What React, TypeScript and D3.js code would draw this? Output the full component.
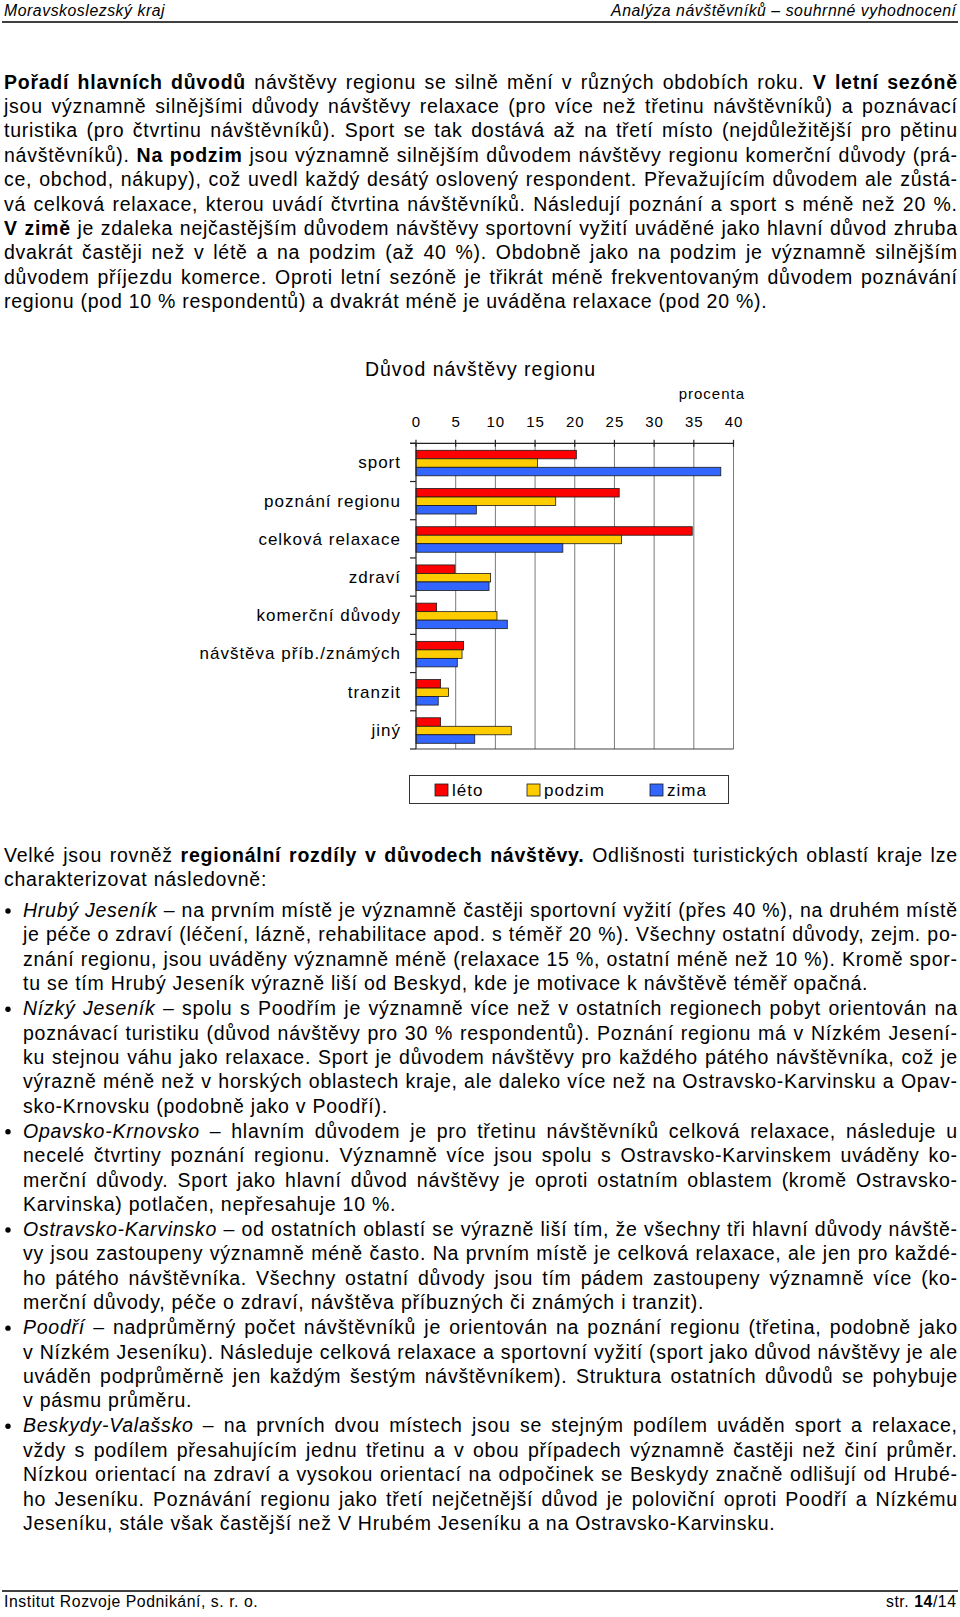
import React, { useMemo } from 'react';
import * as d3 from 'd3';

// ---------- chart data ----------
const categories = [
  'sport',
  'poznání regionu',
  'celková relaxace',
  'zdraví',
  'komerční důvody',
  'návštěva příb./známých',
  'tranzit',
  'jiný',
];
const leto = [20.2, 25.6, 34.8, 4.9, 2.6, 6.0, 3.1, 3.1];
const podzim = [15.3, 17.6, 25.9, 9.4, 10.2, 5.8, 4.1, 12.0];
const zima = [38.4, 7.6, 18.5, 9.2, 11.5, 5.2, 2.8, 7.4];
const seriesNames = ['léto', 'podzim', 'zima'];
const seriesColors = ['#FF0000', '#FFCC00', '#3366FF'];
const xTicks = [0, 5, 10, 15, 20, 25, 30, 35, 40];
const chartTitle = 'Důvod návštěvy regionu';
const unitLabel = 'procenta';

// ---------- page text ----------
const headerLeft = 'Moravskoslezský kraj';
const headerRight = 'Analýza návštěvníků – souhrnné vyhodnocení';
const footerLeft = 'Institut Rozvoje Podnikání, s. r. o.';

const paragraph1 = [
  '**Pořadí hlavních důvodů** návštěvy regionu se silně mění v různých obdobích roku. **V letní sezóně**',
  'jsou významně silnějšími důvody návštěvy relaxace (pro více než třetinu návštěvníků) a poznávací',
  'turistika (pro čtvrtinu návštěvníků). Sport se tak dostává až na třetí místo (nejdůležitější pro pětinu',
  'návštěvníků). **Na podzim** jsou významně silnějším důvodem návštěvy regionu komerční důvody (prá-',
  'ce, obchod, nákupy), což uvedl každý desátý oslovený respondent. Převažujícím důvodem ale zůstá-',
  'vá celková relaxace, kterou uvádí čtvrtina návštěvníků. Následují poznání a sport s méně než 20 %.',
  '**V zimě** je zdaleka nejčastějším důvodem návštěvy sportovní vyžití uváděné jako hlavní důvod zhruba',
  'dvakrát častěji než v létě a na podzim (až 40 %). Obdobně jako na podzim je významně silnějším',
  'důvodem příjezdu komerce. Oproti letní sezóně je třikrát méně frekventovaným důvodem poznávání',
  'regionu (pod 10 % respondentů) a dvakrát méně je uváděna relaxace (pod 20 %).',
];

const paragraph2 = [
  'Velké jsou rovněž **regionální rozdíly v důvodech návštěvy.** Odlišnosti turistických oblastí kraje lze',
  'charakterizovat následovně:',
];

const bullets = [
  [
    '*Hrubý Jeseník* – na prvním místě je významně častěji sportovní vyžití (přes 40 %), na druhém místě',
    'je péče o zdraví (léčení, lázně, rehabilitace apod. s téměř 20 %). Všechny ostatní důvody, zejm. po-',
    'znání regionu, jsou uváděny významně méně (relaxace 15 %, ostatní méně než 10 %). Kromě spor-',
    'tu se tím Hrubý Jeseník výrazně liší od Beskyd, kde je motivace k návštěvě téměř opačná.',
  ],
  [
    '*Nízký Jeseník* – spolu s Poodřím je významně více než v ostatních regionech pobyt orientován na',
    'poznávací turistiku (důvod návštěvy pro 30 % respondentů). Poznání regionu má v Nízkém Jesení-',
    'ku stejnou váhu jako relaxace. Sport je důvodem návštěvy pro každého pátého návštěvníka, což je',
    'výrazně méně než v horských oblastech kraje, ale daleko více než na Ostravsko-Karvinsku a Opav-',
    'sko-Krnovsku (podobně jako v Poodří).',
  ],
  [
    '*Opavsko-Krnovsko* – hlavním důvodem je pro třetinu návštěvníků celková relaxace, následuje u',
    'necelé čtvrtiny poznání regionu. Významně více jsou spolu s Ostravsko-Karvinskem uváděny ko-',
    'merční důvody. Sport jako hlavní důvod návštěvy je oproti ostatním oblastem (kromě Ostravsko-',
    'Karvinska) potlačen, nepřesahuje 10 %.',
  ],
  [
    '*Ostravsko-Karvinsko* – od ostatních oblastí se výrazně liší tím, že všechny tři hlavní důvody návště-',
    'vy jsou zastoupeny významně méně často. Na prvním místě je celková relaxace, ale jen pro každé-',
    'ho pátého návštěvníka. Všechny ostatní důvody jsou tím pádem zastoupeny významně více (ko-',
    'merční důvody, péče o zdraví, návštěva příbuzných či známých i tranzit).',
  ],
  [
    '*Poodří* – nadprůměrný počet návštěvníků je orientován na poznání regionu (třetina, podobně jako',
    'v Nízkém Jeseníku). Následuje celková relaxace a sportovní vyžití (sport jako důvod návštěvy je ale',
    'uváděn podprůměrně jen každým šestým návštěvníkem). Struktura ostatních důvodů se pohybuje',
    'v pásmu průměru.',
  ],
  [
    '*Beskydy-Valašsko* – na prvních dvou místech jsou se stejným podílem uváděn sport a relaxace,',
    'vždy s podílem přesahujícím jednu třetinu a v obou případech významně častěji než činí průměr.',
    'Nízkou orientací na zdraví a vysokou orientací na odpočinek se Beskydy značně odlišují od Hrubé-',
    'ho Jeseníku. Poznávání regionu jako třetí nejčetnější důvod je poloviční oproti Poodří a Nízkému',
    'Jeseníku, stále však častější než V Hrubém Jeseníku a na Ostravsko-Karvinsku.',
  ],
];

// ---------- text layout helpers ----------
const FAMILY = '"Liberation Sans", Arial, Helvetica, sans-serif';
const BODY_SIZE = 19.5;
const BODY_LS = 0.75;

type Word = { t: string; b: boolean; i: boolean; x: number };

let _ctx: CanvasRenderingContext2D | null = null;
function ctx() {
  if (!_ctx) _ctx = document.createElement('canvas').getContext('2d');
  return _ctx!;
}
function measure(t: string, b: boolean, i: boolean, size: number, ls: number) {
  const c = ctx();
  c.font = `${i ? 'italic ' : ''}${b ? 'bold ' : ''}${size}px ${FAMILY}`;
  return c.measureText(t).width + ls * t.length;
}

function parse(line: string) {
  const parts = line.split(/(\*\*[^*]+\*\*|\*[^*]+\*)/).filter((p) => p.length);
  const words: { t: string; b: boolean; i: boolean }[] = [];
  parts.forEach((p) => {
    let b = false;
    let i = false;
    let t = p;
    if (p.startsWith('**')) {
      b = true;
      t = p.slice(2, -2);
    } else if (p.startsWith('*')) {
      i = true;
      t = p.slice(1, -1);
    }
    t.split(' ')
      .filter((w) => w.length)
      .forEach((w) => words.push({ t: w, b, i }));
  });
  return words;
}

function layoutLine(line: string, left: number, right: number, justify: boolean): Word[] {
  const ws = parse(line);
  const widths = ws.map((w) => measure(w.t, w.b, w.i, BODY_SIZE, BODY_LS));
  const total = d3.sum(widths) - BODY_LS;
  const gap =
    justify && ws.length > 1
      ? (right - left - total) / (ws.length - 1)
      : measure(' ', false, false, BODY_SIZE, BODY_LS);
  let x = left;
  return ws.map((w, k) => {
    const out = { ...w, x };
    x += widths[k] + gap;
    return out;
  });
}

const TextLine: React.FC<{ words: Word[]; y: number }> = ({ words, y }) => (
  <g>
    {words.map((w, k) => (
      <text
        key={k}
        x={w.x}
        y={y}
        fontSize={BODY_SIZE}
        letterSpacing={BODY_LS}
        fontWeight={w.b ? 'bold' : 'normal'}
        fontStyle={w.i ? 'italic' : 'normal'}
      >
        {w.t}
      </text>
    ))}
  </g>
);

export default function App() {
  const W = 960;
  const H = 1617;
  const LEFT = 4;
  const RIGHT = 957;
  const BULLET_LEFT = 23;
  const LH = 24.42;

  const body = useMemo(() => {
    const items: { words: Word[]; y: number }[] = [];
    paragraph1.forEach((ln, k) => {
      items.push({
        words: layoutLine(ln, LEFT, RIGHT, k < paragraph1.length - 1),
        y: 88.5 + k * LH,
      });
    });
    paragraph2.forEach((ln, k) => {
      items.push({
        words: layoutLine(ln, LEFT, RIGHT, k < paragraph2.length - 1),
        y: 861.5 + k * 24,
      });
    });
    const dots: number[] = [];
    let y = 917;
    bullets.forEach((b) => {
      dots.push(y);
      b.forEach((ln, k) => {
        items.push({ words: layoutLine(ln, BULLET_LEFT, RIGHT, k < b.length - 1), y });
        y += LH;
      });
      y += 0.5;
    });
    return { items, dots };
  }, []);

  // ---------- chart scales ----------
  const x = d3.scaleLinear().domain([0, 40]).range([416, 733.5]);
  const y = d3.scaleBand<string>().domain(categories).range([443.3, 749]).padding(0);
  const inner = d3.scaleBand<string>().domain(seriesNames).range([7, 32.5]).padding(0);
  const series = [leto, podzim, zima];
  const plotTop = y.range()[0];
  const plotBottom = y.range()[1];
  const boundaries = categories.map((c) => y(c)!).concat([plotBottom]);

  const CH = { fontSize: 17, letterSpacing: 1 };

  const legendX = [435, 527, 650];

  return (
    <svg
      width={W}
      height={H}
      viewBox={`0 0 ${W} ${H}`}
      style={{ position: 'absolute', left: 0, top: 0, background: '#fff' }}
      fontFamily={FAMILY}
      fill="#000"
    >
      <rect x={0} y={0} width={W} height={H} fill="#fff" />

      {/* header */}
      <text x={4} y={16} fontSize={15.8} letterSpacing={0.55} fontStyle="italic">
        {headerLeft}
      </text>
      <text x={956.5} y={16} fontSize={15.8} letterSpacing={0.55} fontStyle="italic" textAnchor="end">
        {headerRight}
      </text>
      <line x1={2} x2={958} y1={22} y2={22} stroke="#000" strokeWidth={1.3} />

      {/* body text */}
      {body.items.map((it, k) => (
        <TextLine key={k} words={it.words} y={it.y} />
      ))}
      {body.dots.map((d, k) => (
        <circle key={k} cx={8} cy={d - 6} r={2.7} fill="#000" />
      ))}

      {/* chart */}
      <text x={480.5} y={376} fontSize={19.5} letterSpacing={1} textAnchor="middle">
        {chartTitle}
      </text>
      <text x={745} y={399} fontSize={15} letterSpacing={1} textAnchor="end">
        {unitLabel}
      </text>
      {xTicks.map((t) => (
        <text key={t} x={x(t) + 0.5} y={427} fontSize={15} letterSpacing={1} textAnchor="middle">
          {t}
        </text>
      ))}

      {/* gridlines */}
      {xTicks.slice(1).map((t) => (
        <line key={t} x1={x(t)} x2={x(t)} y1={plotTop} y2={plotBottom} stroke="#7a7a7a" strokeWidth={1} />
      ))}

      {/* bars */}
      {categories.map((c, ci) => (
        <g key={c}>
          {series.map((s, si) => (
            <rect
              key={si}
              x={x(0)}
              y={y(c)! + inner(seriesNames[si])!}
              width={x(s[ci]) - x(0)}
              height={inner.bandwidth()}
              fill={seriesColors[si]}
              stroke="#1a1a1a"
              strokeWidth={0.8}
            />
          ))}
        </g>
      ))}

      {/* axes */}
      <line x1={410} x2={x(40)} y1={plotTop} y2={plotTop} stroke="#222" strokeWidth={1.2} />
      {xTicks.map((t) => (
        <line key={t} x1={x(t)} x2={x(t)} y1={plotTop - 3.5} y2={plotTop + 3.5} stroke="#222" strokeWidth={1.2} />
      ))}
      <line x1={x(0)} x2={x(0)} y1={plotTop} y2={plotBottom} stroke="#222" strokeWidth={1.2} />
      {boundaries.map((b, k) => (
        <line key={k} x1={410} x2={x(0)} y1={b} y2={b} stroke="#222" strokeWidth={1.2} />
      ))}
      <line x1={x(0)} x2={x(40)} y1={plotBottom} y2={plotBottom} stroke="#444" strokeWidth={1.2} />

      {/* category labels */}
      {categories.map((c) => (
        <text key={c} x={401} y={y(c)! + y.bandwidth() / 2 + 6} textAnchor="end" {...CH}>
          {c}
        </text>
      ))}

      {/* legend */}
      <rect x={409.5} y={775.5} width={319} height={28} fill="#fff" stroke="#333" strokeWidth={1} />
      {seriesNames.map((n, k) => (
        <g key={n}>
          <rect x={legendX[k]} y={784} width={13} height={12} fill={seriesColors[k]} stroke="#1a1a1a" strokeWidth={0.8} />
          <text x={legendX[k] + 17} y={796} {...CH}>
            {n}
          </text>
        </g>
      ))}

      {/* footer */}
      <line x1={2} x2={958} y1={1591} y2={1591} stroke="#000" strokeWidth={1.3} />
      <text x={4} y={1607} fontSize={15.8} letterSpacing={0.55}>
        {footerLeft}
      </text>
      <text x={956.5} y={1607} fontSize={15.8} letterSpacing={0.55} textAnchor="end">
        str. <tspan fontWeight="bold">14</tspan>/14
      </text>
    </svg>
  );
}
